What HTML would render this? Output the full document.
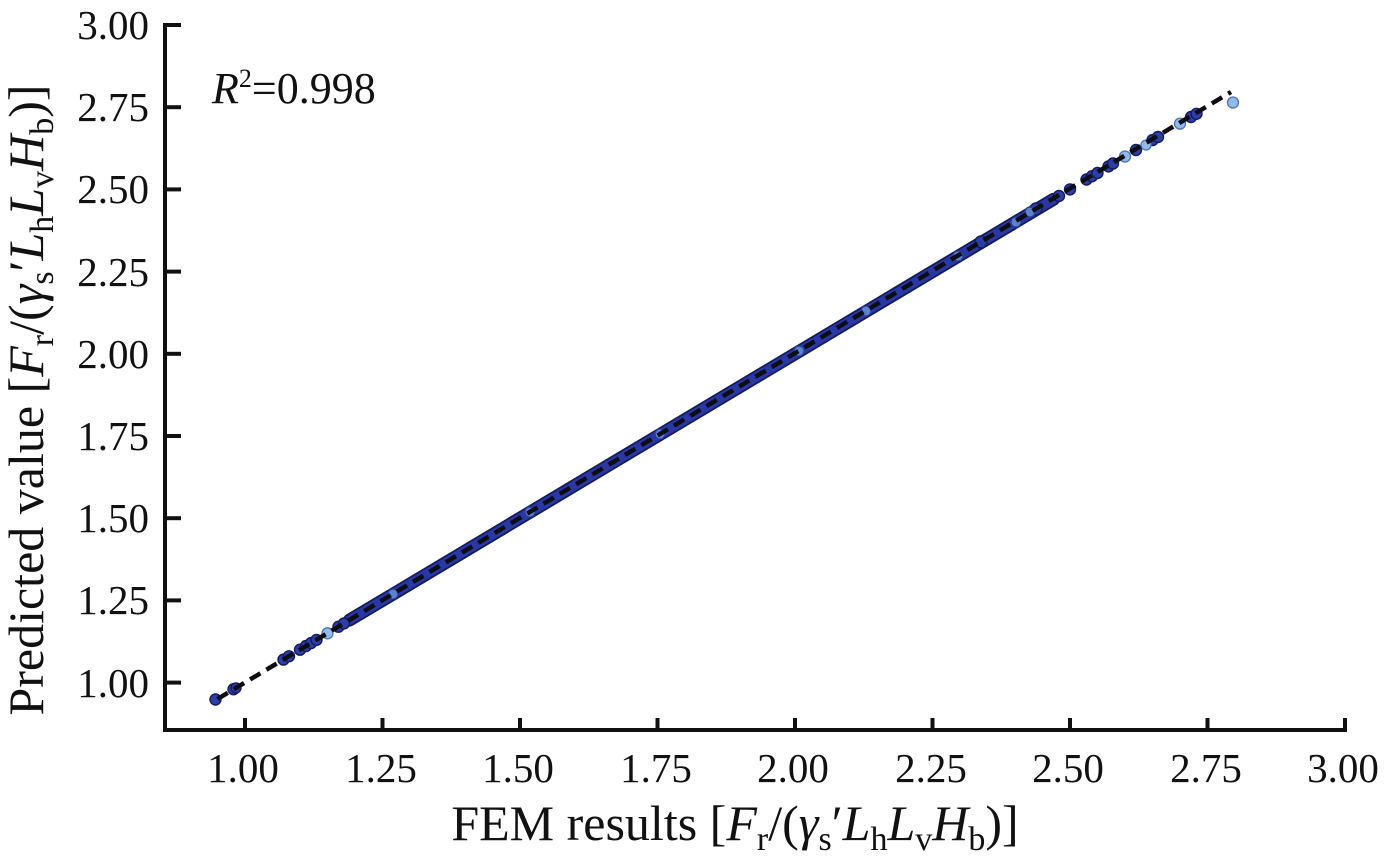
<!DOCTYPE html>
<html>
<head>
<meta charset="utf-8">
<style>
  html,body{margin:0;padding:0;background:#fff;}
  svg{display:block;}
  text{font-family:"Liberation Serif","DejaVu Serif",serif;fill:#111;}
</style>
</head>
<body>
<svg width="1391" height="859" viewBox="0 0 1391 859" xmlns="http://www.w3.org/2000/svg">
  <rect x="0" y="0" width="1391" height="859" fill="#fff"/>

  <!-- data band -->
  <line x1="349.5" y1="620.1" x2="1053.5" y2="199.3" stroke="#141c5a" stroke-width="13" stroke-linecap="round"/>
  <line x1="349.5" y1="620.1" x2="1053.5" y2="199.3" stroke="#2a38a6" stroke-width="9.5" stroke-linecap="round"/>

  <g stroke="#141c5a" stroke-width="1.4" fill="#2d3ea8">
    <circle cx="215.5" cy="699.5" r="5.5"/>
    <circle cx="233.5" cy="689.2" r="5.5"/>
    <circle cx="236" cy="688" r="5"/>
    <circle cx="283.5" cy="659.6" r="5.5"/>
    <circle cx="289" cy="656.3" r="5.5"/>
    <circle cx="300" cy="649.7" r="5.5"/>
    <circle cx="306" cy="646" r="5.5"/>
    <circle cx="311" cy="643.1" r="5.5"/>
    <circle cx="316.5" cy="639.9" r="5.5"/>
    <circle cx="338.5" cy="626.7" r="5.5"/>
    <circle cx="344" cy="623.4" r="5.5"/>
    <circle cx="981" cy="242" r="6"/>
    <circle cx="1036" cy="209" r="6"/>
    <circle cx="1059" cy="196" r="5.5"/>
    <circle cx="1070" cy="189.4" r="5.5"/>
    <circle cx="1086.5" cy="179.5" r="5.5"/>
    <circle cx="1092" cy="176.2" r="5.5"/>
    <circle cx="1097.5" cy="173" r="5.5"/>
    <circle cx="1108.5" cy="166.4" r="5.5"/>
    <circle cx="1113" cy="163.5" r="5.5"/>
    <circle cx="1136" cy="150" r="5.5"/>
    <circle cx="1152.5" cy="140.1" r="5.5"/>
    <circle cx="1158" cy="137" r="5.5"/>
    <circle cx="1191" cy="117" r="5.5"/>
    <circle cx="1196.5" cy="113.8" r="5.5"/>
  </g>
  <g stroke="#4f72bb" stroke-width="1.3" fill="#93bbe6">
    <circle cx="327.5" cy="633.3" r="5.5"/>
    <circle cx="1125" cy="156.5" r="5.5"/>
    <circle cx="1146" cy="145" r="5"/>
    <circle cx="1180" cy="123.6" r="5.5"/>
    <circle cx="1233" cy="102.5" r="5.5"/>
  </g>
  <g stroke="#2a3c9a" stroke-width="1.2" fill="#5a82d0">
    <circle cx="393" cy="594" r="5"/>
    <circle cx="530" cy="512" r="5"/>
    <circle cx="660" cy="434" r="5"/>
    <circle cx="799" cy="351" r="5"/>
    <circle cx="866" cy="311" r="5"/>
    <circle cx="958" cy="256" r="5"/>
    <circle cx="1016" cy="222" r="5"/>
    <circle cx="1030" cy="212" r="5"/>
  </g>

  <!-- dashed y=x line -->
  <line x1="217.5" y1="699" x2="1231" y2="92" stroke="#0d0d14" stroke-width="4.5" stroke-dasharray="12 7"/>

  <!-- axes -->
  <line x1="165" y1="23" x2="165" y2="732" stroke="#111" stroke-width="4"/>
  <line x1="163" y1="730" x2="1347" y2="730" stroke="#111" stroke-width="4"/>

  <!-- y ticks -->
  <g stroke="#111" stroke-width="4">
    <line x1="165" y1="25" x2="181" y2="25"/>
    <line x1="165" y1="107.2" x2="181" y2="107.2"/>
    <line x1="165" y1="189.4" x2="181" y2="189.4"/>
    <line x1="165" y1="271.6" x2="181" y2="271.6"/>
    <line x1="165" y1="353.8" x2="181" y2="353.8"/>
    <line x1="165" y1="436" x2="181" y2="436"/>
    <line x1="165" y1="518.2" x2="181" y2="518.2"/>
    <line x1="165" y1="600.4" x2="181" y2="600.4"/>
    <line x1="165" y1="682.6" x2="181" y2="682.6"/>
  </g>
  <!-- x ticks -->
  <g stroke="#111" stroke-width="4">
    <line x1="245" y1="730" x2="245" y2="718"/>
    <line x1="382.5" y1="730" x2="382.5" y2="718"/>
    <line x1="520" y1="730" x2="520" y2="718"/>
    <line x1="657.5" y1="730" x2="657.5" y2="718"/>
    <line x1="795" y1="730" x2="795" y2="718"/>
    <line x1="932.5" y1="730" x2="932.5" y2="718"/>
    <line x1="1070" y1="730" x2="1070" y2="718"/>
    <line x1="1207.5" y1="730" x2="1207.5" y2="718"/>
    <line x1="1345" y1="730" x2="1345" y2="718"/>
  </g>

  <!-- y tick labels -->
  <g font-size="41" text-anchor="end">
    <text x="149" y="39">3.00</text>
    <text x="149" y="121">2.75</text>
    <text x="149" y="203">2.50</text>
    <text x="149" y="286">2.25</text>
    <text x="149" y="368">2.00</text>
    <text x="149" y="450">1.75</text>
    <text x="149" y="532">1.50</text>
    <text x="149" y="614">1.25</text>
    <text x="149" y="697">1.00</text>
  </g>
  <!-- x tick labels -->
  <g font-size="41" text-anchor="middle">
    <text x="243" y="782">1.00</text>
    <text x="381" y="782">1.25</text>
    <text x="518" y="782">1.50</text>
    <text x="656" y="782">1.75</text>
    <text x="793" y="782">2.00</text>
    <text x="931" y="782">2.25</text>
    <text x="1068" y="782">2.50</text>
    <text x="1206" y="782">2.75</text>
    <text x="1343" y="782">3.00</text>
  </g>

  <!-- R^2 -->
  <text x="212" y="103" font-size="44"><tspan font-style="italic">R</tspan><tspan font-size="26" dy="-16">2</tspan><tspan dy="16">=0.998</tspan></text>

  <!-- x axis label -->
  <text x="735" y="840" font-size="50" text-anchor="middle">FEM results [<tspan font-style="italic">F</tspan><tspan font-size="34" dy="10">r</tspan><tspan dy="-10">/(</tspan><tspan font-style="italic">γ</tspan><tspan font-size="34" dy="10">s</tspan><tspan dy="-10">′</tspan><tspan font-style="italic">L</tspan><tspan font-size="34" dy="10">h</tspan><tspan font-style="italic" dy="-10">L</tspan><tspan font-size="34" dy="10">v</tspan><tspan font-style="italic" dy="-10">H</tspan><tspan font-size="34" dy="10">b</tspan><tspan dy="-10">)]</tspan></text>

  <!-- y axis label -->
  <text transform="translate(43,400) rotate(-90)" x="0" y="0" font-size="50" text-anchor="middle">Predicted value [<tspan font-style="italic">F</tspan><tspan font-size="34" dy="10">r</tspan><tspan dy="-10">/(</tspan><tspan font-style="italic">γ</tspan><tspan font-size="34" dy="10">s</tspan><tspan dy="-10">′</tspan><tspan font-style="italic">L</tspan><tspan font-size="34" dy="10">h</tspan><tspan font-style="italic" dy="-10">L</tspan><tspan font-size="34" dy="10">v</tspan><tspan font-style="italic" dy="-10">H</tspan><tspan font-size="34" dy="10">b</tspan><tspan dy="-10">)]</tspan></text>
</svg>
</body>
</html>
